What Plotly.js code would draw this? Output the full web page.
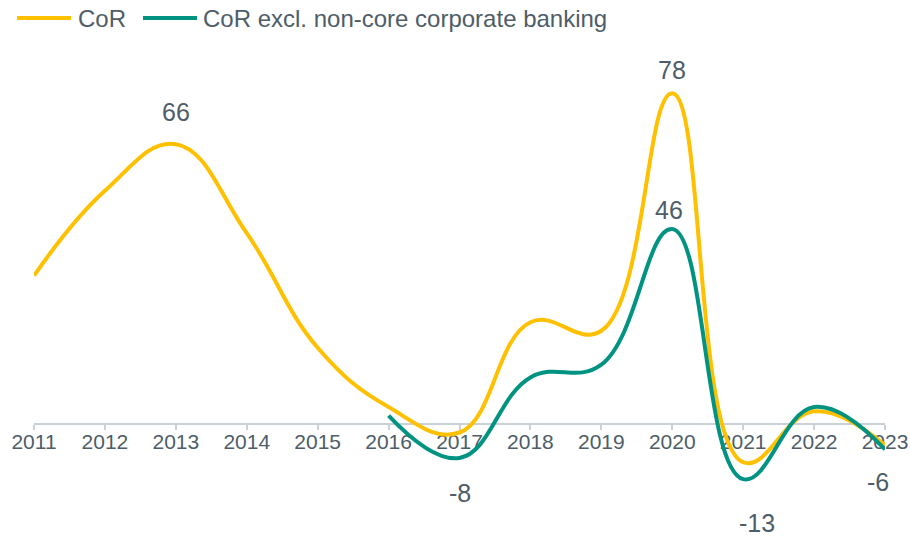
<!DOCTYPE html>
<html>
<head>
<meta charset="utf-8">
<script src="https://cdn.plot.ly/plotly-3.0.1.min.js"></script>
<style>html,body{margin:0;padding:0;background:#fff;}#chart{width:910px;height:536px;}</style>
</head>
<body>
<div id="chart"></div>
<script>
const years = [2011, 2012, 2013, 2014, 2015, 2016, 2017, 2018, 2019, 2020, 2021, 2022, 2023];
const corValues = [35, 55, 66, 45, 18, 4, -2, 24, 22, 78, -9, 3, -5];
const corExclValues = [null, null, null, null, null, 2, -8, 11, 14, 46, -13, 4, -6];
const seriesNames = ["CoR", "CoR excl. non-core corporate banking"];
// labelled points: [series index, year]
const labelledPoints = [[0, 2013], [0, 2020], [1, 2020], [1, 2017], [1, 2021], [1, 2023]];

const W = 910, H = 536;
const M = {l: 34, r: 25, t: 40, b: 3};
const plotW = W - M.l - M.r, plotH = H - M.t - M.b;
const yMin = -25.7, yMax = 90.57;
const colors = ["#FFC000", "#009382"];
const textColor = "#4E5D67";
const font = "'Liberation Sans', Arial, sans-serif";

const px = X => (X - M.l) / plotW;
const py = Y => (H - M.b - Y) / plotH;

const allSeries = [corValues, corExclValues];
const traces = allSeries.map((vals, i) => ({
  x: years, y: vals, type: "scatter", mode: "lines", name: seriesNames[i],
  line: {color: colors[i], width: 4, shape: "spline", smoothing: 1.2},
  connectgaps: false, hoverinfo: "x+y"
}));

// label offsets (pixels) per labelled point
const offsets = [[0, 32], [0, 23], [-3, 19], [0, -35], [14, -44], [-7, -33]];
const annotations = labelledPoints.map(([s, yr], k) => {
  const v = allSeries[s][years.indexOf(yr)];
  return {
    x: yr, y: v, xref: "x", yref: "y", text: String(v), showarrow: false,
    xshift: offsets[k][0], yshift: offsets[k][1],
    font: {family: font, size: 25, color: textColor}
  };
});

// manual legend
const legendItems = [
  {x0: 17, x1: 71, tx: 76},
  {x0: 143, x1: 197, tx: 201}
];
const shapes = legendItems.map((it, i) => ({
  type: "line", xref: "paper", yref: "paper",
  x0: px(it.x0), x1: px(it.x1), y0: py(18), y1: py(18),
  line: {color: colors[i], width: 4}
}));
legendItems.forEach((it, i) => annotations.push({
  xref: "paper", yref: "paper", x: px(it.tx), y: py(18.5),
  xanchor: "left", yanchor: "middle", showarrow: false,
  text: seriesNames[i], font: {family: font, size: 24, color: textColor}
}));

const layout = {
  width: W, height: H, margin: M,
  paper_bgcolor: "#ffffff", plot_bgcolor: "#ffffff",
  showlegend: false,
  font: {family: font, color: textColor},
  xaxis: {
    range: [years[0], years[years.length - 1]],
    tickvals: years, ticktext: years.map(String),
    anchor: "free", position: -yMin / (yMax - yMin),
    showline: true, linecolor: "#C9D1D6", linewidth: 2,
    ticks: "outside", ticklen: 5, tickwidth: 2, tickcolor: "#C9D1D6",
    ticklabelstandoff: -6,
    showgrid: false, zeroline: false, layer: "below traces",
    tickfont: {family: font, size: 21, color: textColor},
    automargin: false, fixedrange: true
  },
  yaxis: {
    range: [yMin, yMax], showgrid: false, zeroline: false,
    showticklabels: false, ticks: "", showline: false,
    automargin: false, fixedrange: true
  },
  shapes: shapes,
  annotations: annotations
};

Plotly.newPlot("chart", traces, layout, {displayModeBar: false, staticPlot: true});
</script>
</body>
</html>
